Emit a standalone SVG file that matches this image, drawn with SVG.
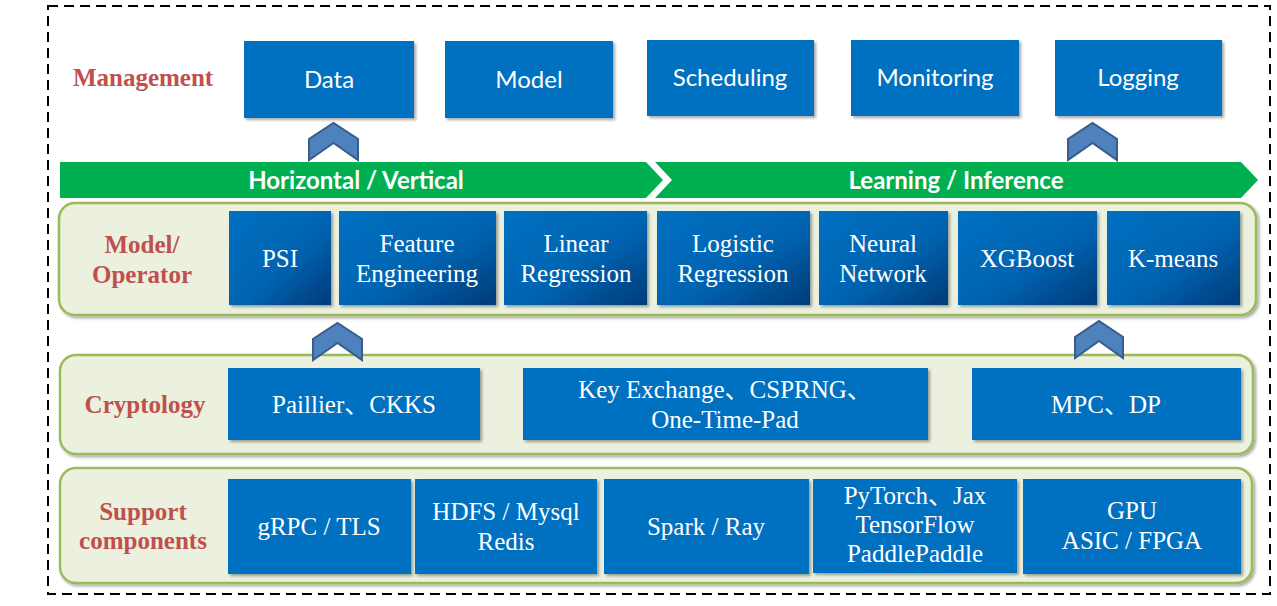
<svg xmlns="http://www.w3.org/2000/svg" width="1277" height="606" viewBox="0 0 1277 606">
<defs>
<filter id="sh" x="-10%" y="-10%" width="130%" height="130%">
<feDropShadow dx="2" dy="2" stdDeviation="1.5" flood-color="#000" flood-opacity="0.35"/>
</filter>
<linearGradient id="gb" x1="0" y1="0" x2="1" y2="1">
<stop offset="0" stop-color="#0070C0"/>
<stop offset="0.55" stop-color="#0064B2"/>
<stop offset="1" stop-color="#043B78"/>
</linearGradient>
<style>
.box{fill:#0070C0;filter:url(#sh);}
.gbox{fill:url(#gb);filter:url(#sh);}
.cont{fill:#EBF1DE;stroke:#9BBB59;stroke-width:2.5;filter:url(#sh);}
.chev{fill:#4F81BD;stroke:#385D8A;stroke-width:2;}
.bar{fill:#00B050;}
.mt{font-family:Lato,"Noto Sans",sans-serif;font-size:24px;fill:#fff;text-anchor:middle;}
.bt{font-family:Lato,"Noto Sans",sans-serif;font-size:24px;font-weight:bold;fill:#fff;text-anchor:middle;}
.st{font-family:"Liberation Serif","Noto Sans CJK SC",serif;font-size:25px;fill:#fff;text-anchor:middle;}
.lab{font-family:"Liberation Serif",serif;font-size:25px;font-weight:bold;fill:#C0504D;text-anchor:middle;}
</style>
</defs>
<rect x="48" y="6" width="1222" height="588" fill="none" stroke="#000" stroke-width="2" stroke-dasharray="10 6"/>

<g id="management">
<text class="lab" x="143" y="86">Management</text>
</g>
<g id="node-data"><rect class="box" x="244" y="41" width="170" height="77"/><text class="mt" x="329" y="88">Data</text></g>
<g id="node-model"><rect class="box" x="445" y="41" width="168" height="77"/><text class="mt" x="529" y="88">Model</text></g>
<g id="node-scheduling"><rect class="box" x="647" y="40" width="167" height="76"/><text class="mt" x="730" y="86">Scheduling</text></g>
<g id="node-monitoring"><rect class="box" x="851" y="40" width="168" height="76"/><text class="mt" x="935" y="86">Monitoring</text></g>
<g id="node-logging"><rect class="box" x="1055" y="40" width="167" height="76"/><text class="mt" x="1138" y="86">Logging</text></g>

<g id="bar-horizontal"><polygon class="bar" points="60,162 646,162 663,180 646,198 60,198"/><text class="bt" x="356" y="189">Horizontal / Vertical</text></g>
<g id="bar-learning"><polygon class="bar" points="655,162 1241,162 1258,180 1241,198 655,198 672,180"/><text class="bt" x="956" y="189">Learning / Inference</text></g>

<g id="layer-model-operator">
<rect class="cont" x="59" y="203" width="1197" height="112" rx="16"/>
<text class="lab" x="142" y="253">Model/</text>
<text class="lab" x="142" y="283">Operator</text>
</g>
<g id="node-psi"><rect class="gbox" x="229" y="211" width="102" height="94"/><text class="st" x="280" y="267">PSI</text></g>
<g id="node-feature"><rect class="gbox" x="339" y="211" width="157" height="94"/><text class="st" x="417" y="252">Feature</text><text class="st" x="417" y="282">Engineering</text></g>
<g id="node-linear"><rect class="gbox" x="504" y="211" width="143" height="94"/><text class="st" x="576" y="252">Linear</text><text class="st" x="576" y="282">Regression</text></g>
<g id="node-logistic"><rect class="gbox" x="657" y="211" width="153" height="94"/><text class="st" x="733" y="252">Logistic</text><text class="st" x="733" y="282">Regression</text></g>
<g id="node-neural"><rect class="gbox" x="819" y="211" width="129" height="94"/><text class="st" x="883" y="252">Neural</text><text class="st" x="883" y="282">Network</text></g>
<g id="node-xgboost"><rect class="gbox" x="958" y="211" width="139" height="94"/><text class="st" x="1027" y="267">XGBoost</text></g>
<g id="node-kmeans"><rect class="gbox" x="1107" y="211" width="133" height="94"/><text class="st" x="1173" y="267">K-means</text></g>

<g id="layer-cryptology">
<rect class="cont" x="60" y="355" width="1193" height="99" rx="16"/>
<text class="lab" x="145" y="413">Cryptology</text>
</g>
<g id="node-paillier"><rect class="box" x="228" y="368" width="252" height="72"/><text class="st" x="354" y="413">Paillier、CKKS</text></g>
<g id="node-keyex"><rect class="box" x="523" y="368" width="405" height="72"/><text class="st" x="725" y="398">Key Exchange、CSPRNG、</text><text class="st" x="725" y="428">One-Time-Pad</text></g>
<g id="node-mpc"><rect class="box" x="972" y="368" width="269" height="72"/><text class="st" x="1106" y="413">MPC、DP</text></g>

<g id="layer-support">
<rect class="cont" x="60" y="468" width="1192" height="115" rx="16"/>
<text class="lab" x="143" y="520">Support</text>
<text class="lab" x="143" y="549">components</text>
</g>
<g id="node-grpc"><rect class="box" x="228" y="479" width="183" height="95"/><text class="st" x="319" y="535">gRPC / TLS</text></g>
<g id="node-hdfs"><rect class="box" x="415" y="479" width="182" height="95"/><text class="st" x="506" y="520">HDFS / Mysql</text><text class="st" x="506" y="550">Redis</text></g>
<g id="node-spark"><rect class="box" x="604" y="479" width="205" height="95"/><text class="st" x="706" y="535">Spark / Ray</text></g>
<g id="node-pytorch"><rect class="box" x="813" y="479" width="204" height="94"/><text class="st" x="915" y="504">PyTorch、Jax</text><text class="st" x="915" y="533">TensorFlow</text><text class="st" x="915" y="562">PaddlePaddle</text></g>
<g id="node-gpu"><rect class="box" x="1023" y="479" width="218" height="95"/><text class="st" x="1132" y="519">GPU</text><text class="st" x="1132" y="549">ASIC / FPGA</text></g>

<g id="connectors">
<polygon class="chev" points="309,160 309,139 333.5,123 358,139 358,160 333.5,143"/>
<polygon class="chev" points="1068,160 1068,139 1092.5,123 1117,139 1117,160 1092.5,143"/>
<polygon class="chev" points="313,360 313,339 337.5,323 362,339 362,360 337.5,343"/>
<polygon class="chev" points="1075,358 1075,337 1099,321 1123,337 1123,358 1099,341"/>
</g>
</svg>
